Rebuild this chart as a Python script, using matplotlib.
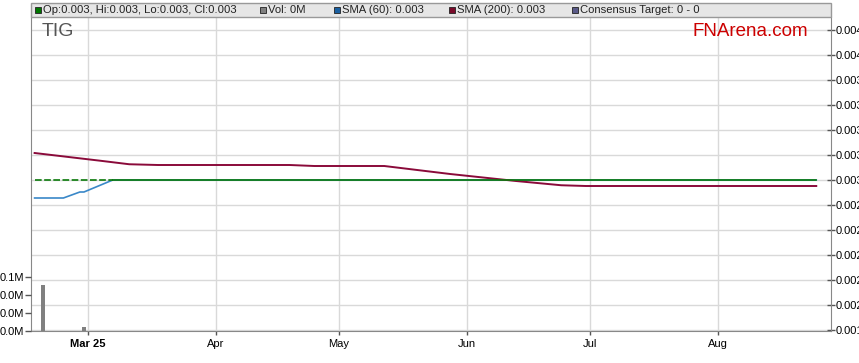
import matplotlib
matplotlib.use("Agg")
import matplotlib.pyplot as plt
from matplotlib.patches import Rectangle
import pandas as pd

plt.rcParams['font.family'] = ['Liberation Sans', 'DejaVu Sans']

# close price (flat at 0.003, dashed segment at the start)
close_dash_dates = pd.to_datetime(["2025-02-16", "2025-03-07"])
close_dash_vals = [0.003, 0.003]
close_dates = pd.to_datetime(["2025-03-07", "2025-08-25"])
close_vals = [0.003, 0.003]

# SMA 60
sma60_dates = pd.to_datetime(["2025-02-16", "2025-02-23", "2025-02-27", "2025-02-28",
                              "2025-03-07", "2025-08-25"])
sma60_vals = [0.002856, 0.002856, 0.002904, 0.002904, 0.003, 0.003]

# SMA 200
sma200_dates = pd.to_datetime(["2025-02-16", "2025-03-04", "2025-03-11", "2025-03-18",
                               "2025-04-19", "2025-04-25", "2025-05-12", "2025-05-28",
                               "2025-06-13", "2025-06-24", "2025-06-30", "2025-08-25"])
sma200_vals = [0.003216, 0.003154, 0.003126, 0.00312, 0.00312, 0.003112, 0.003112,
               0.003048, 0.002992, 0.002958, 0.002952, 0.002952]

# volume in millions
vol_dates = pd.to_datetime(["2025-02-18", "2025-02-28"])
vol_vals = [0.051, 0.0045]

price_ticks = [0.0018, 0.0020, 0.0022, 0.0024, 0.0026, 0.0028, 0.0030,
               0.0032, 0.0034, 0.0036, 0.0038, 0.0040, 0.0042]
price_labels = ["0.001", "0.002", "0.002", "0.002", "0.002", "0.002", "0.003",
                "0.003", "0.003", "0.003", "0.003", "0.004", "0.004"]
vol_ticks = [0, 0.02, 0.04, 0.06]
vol_labels = ["0.0M", "0.0M", "0.0M", "0.1M"]
month_ticks = pd.to_datetime(["2025-03-01", "2025-04-01", "2025-05-01", "2025-06-01",
                              "2025-07-01", "2025-08-01"])
month_labels = ["Mar 25", "Apr", "May", "Jun", "Jul", "Aug"]

W, H = 859, 363
fig = plt.figure(figsize=(W / 100, H / 100), dpi=100)
ax = fig.add_axes([31 / W, 1 - 331 / H, 800 / W, 314 / H])

grid_c = "#d9d9d9"
spine_c = "#888888"

ax.plot(sma60_dates, sma60_vals, color="#3a88c8", lw=1.2, zorder=3)
ax.plot(close_dash_dates, close_dash_vals, color="#0a7a0a", lw=1.2, dashes=(4, 1.5), zorder=4)
ax.plot(close_dates, close_vals, color="#0a7a0a", lw=1.2, zorder=4)
ax.plot(sma200_dates, sma200_vals, color="#8a0a3a", lw=1.4, zorder=3)

ax.set_xlim(pd.Timestamp("2025-02-15 03:00"), pd.Timestamp("2025-08-28 14:00"))
ax.set_ylim(0.001792, 0.004304)

# volume on the left, drawn in the lower part of the pane
axv = ax.twinx()
axv.bar(vol_dates, vol_vals, width=0.9, color="#808080", zorder=2)
axv.set_ylim(0, 0.06 * 314 / 54)
axv.yaxis.tick_left()
axv.set_yticks(vol_ticks)
axv.set_yticklabels(vol_labels, fontsize=8)
axv.tick_params(axis="y", direction="out", length=4, width=1, color="#555555", pad=1)
for s in axv.spines.values():
    s.set_visible(False)

ax.yaxis.tick_right()
ax.set_yticks(price_ticks)
ax.set_yticklabels(price_labels, fontsize=8)
ax.set_xticks(month_ticks)
ax.set_xticklabels(month_labels, fontsize=8)
ax.get_xticklabels()[0].set_fontweight("bold")
ax.tick_params(axis="y", direction="inout", length=6, width=1, color="#555555", pad=0)
ax.tick_params(axis="x", direction="out", length=3, width=1, color="#555555", pad=3)
ax.grid(True, color=grid_c, lw=1, zorder=0)
ax.set_axisbelow(True)
for s in ["left", "right", "bottom"]:
    ax.spines[s].set_color(spine_c)
ax.spines["top"].set_visible(False)

# header bar with legend
fig.patches.append(Rectangle((31 / W, 1 - 17 / H), 800 / W, 14 / H, transform=fig.transFigure,
                             facecolor="#e6e6e6", edgecolor="#999999", lw=1, zorder=1))
legend_items = [(35, "#007700", "Op:0.003, Hi:0.003, Lo:0.003, Cl:0.003"),
                (260, "#808080", "Vol: 0M"),
                (334, "#1a5fa0", "SMA (60): 0.003"),
                (449, "#7a0a2a", "SMA (200): 0.003"),
                (572, "#5a5a88", "Consensus Target: 0 - 0")]
for px, col, txt in legend_items:
    fig.patches.append(Rectangle((px / W, 1 - 13 / H), 6 / W, 6 / H, transform=fig.transFigure,
                                 facecolor=col, edgecolor="#222222", lw=0.6, zorder=2))
    fig.text((px + 8) / W, 1 - 10 / H, txt, fontsize=8.1, va="center", ha="left", color="#222222")

fig.text(42 / W, 1 - 32 / H, "TIG", fontsize=14, color="#555555", va="center", ha="left")
fig.text(808 / W, 1 - 32 / H, "FNArena.com", fontsize=13.5, color="#cc0000", va="center", ha="right")

fig.savefig("out.png", dpi=100)
